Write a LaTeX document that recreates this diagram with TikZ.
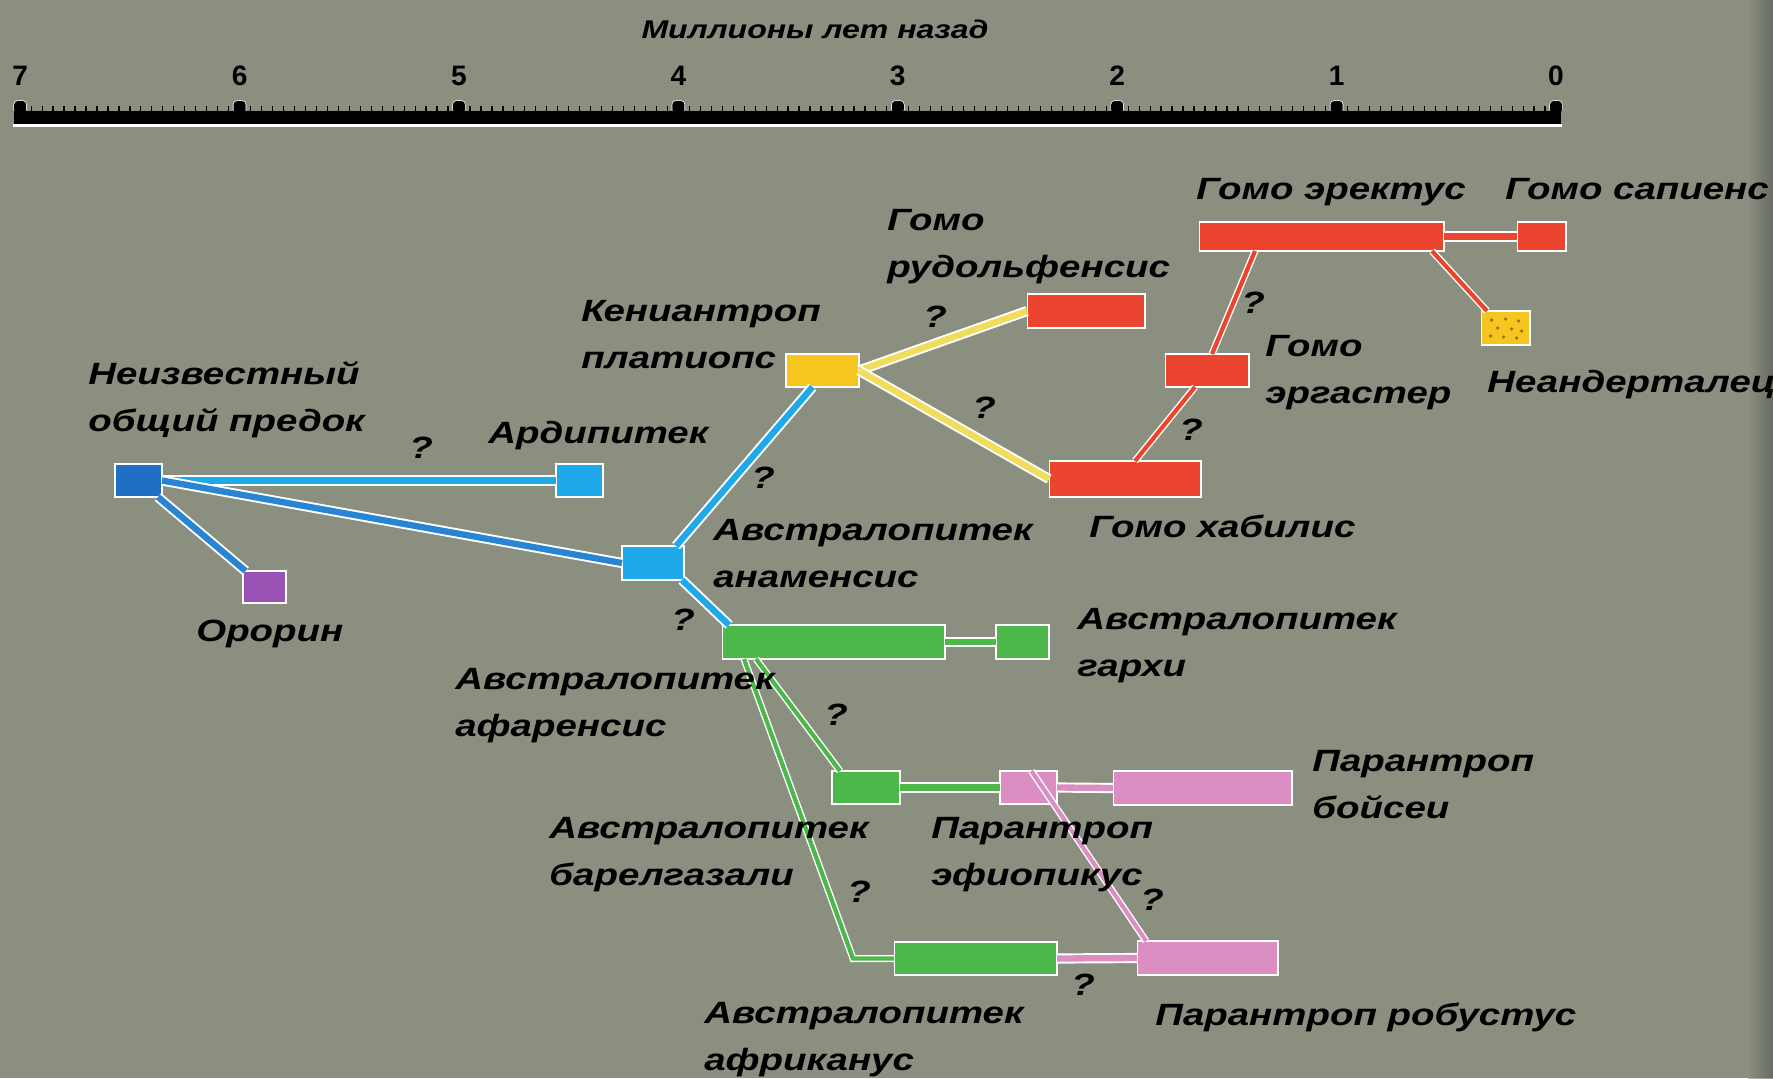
\documentclass[tikz,border=0pt]{standalone}
\usepackage{fontspec}
\setmainfont{Liberation Sans}
\newfontfamily\evofont[FakeStretch=1.25]{Liberation Sans}
\usetikzlibrary{calc}
\definecolor{evopaper}{HTML}{8A8F80}
\definecolor{evonavy}{HTML}{1F6FC4}
\definecolor{evoblue}{HTML}{2785D3}
\definecolor{evosky}{HTML}{1EA9EA}
\definecolor{evoplum}{HTML}{9A52B5}
\definecolor{evogold}{HTML}{F7C520}
\definecolor{evolemon}{HTML}{F2DC5C}
\definecolor{evored}{HTML}{EB4530}
\definecolor{evogreen}{HTML}{4DB84A}
\definecolor{evopink}{HTML}{DA8EC2}
\definecolor{evodot}{HTML}{9A6A10}
\newcommand\evolbl{\evofont\bfseries\itshape\fontsize{17.5}{26.6}\selectfont}
\newcommand\evottl{\evofont\bfseries\itshape\fontsize{14.6}{18}\selectfont}
\tikzset{
  sp/.style={draw=white, line width=0.6pt, inner sep=0pt, outer sep=0pt},
  lnk/.style={draw=white, line width=1.1pt, double distance=3.6pt},
  lnk2/.style={draw=white, line width=0.8pt, double distance=2.4pt},
  nm/.style={font=\evolbl, align=left, inner sep=0pt, anchor=north west},
  qm/.style={font=\evolbl, inner sep=0pt},
  num/.style={font=\bfseries\fontsize{16}{16}\selectfont, inner sep=0pt},
}
\begin{document}
\begin{tikzpicture}[x=0.02cm, y=-0.02cm]
  \useasboundingbox (0,0) rectangle (1773,1078);
  \fill[evopaper] (0,0) rectangle (1773,1078);
  \shade[left color=evopaper, right color=evopaper!60!black, opacity=0.6] (1748,0) rectangle (1773,1078);

  % time axis
  \node[font=\evottl, inner sep=0pt] (axis) at (815,29) {Миллионы лет назад};
  \draw[white, line width=1.4pt] (13,125.5) -- (1562,125.5);
  \fill[black] (14,111) rectangle (1561,124);
  \foreach \k in {0,...,140} \draw[black, line width=0.7pt] (1556-10.97*\k,106) -- ++(0,6);
  \foreach \t in {0,...,7} {
    \draw[white, line width=0.8pt, rounded corners=2pt] (1550-219.4*\t,110) |- (1562-219.4*\t,101) -- (1562-219.4*\t,110);
    \fill[black, rounded corners=2pt] (1550-219.4*\t,113) |- (1562-219.4*\t,101) -- (1562-219.4*\t,113) -- cycle;
    \node[num] (y\t) at (1556-219.4*\t,76) {\t};
  }

  % species
  \node[sp, fill=evonavy, minimum width=0.94cm, minimum height=0.66cm] (anc) at (138.5,480.5) {};
  \node[sp, fill=evosky, minimum width=0.94cm, minimum height=0.66cm] (ardi) at (579.5,480.5) {};
  \node[sp, fill=evoplum, minimum width=0.86cm, minimum height=0.64cm] (orr) at (264.5,587) {};
  \node[sp, fill=evosky, minimum width=1.24cm, minimum height=0.68cm] (anam) at (653,563) {};
  \node[sp, fill=evogold, minimum width=1.46cm, minimum height=0.66cm] (keny) at (822.5,370.5) {};
  \node[sp, fill=evored, minimum width=2.36cm, minimum height=0.68cm] (rudolf) at (1086,311) {};
  \node[sp, fill=evored, minimum width=3.04cm, minimum height=0.72cm] (habil) at (1125,479) {};
  \node[sp, fill=evored, minimum width=1.68cm, minimum height=0.66cm] (ergas) at (1207,370.5) {};
  \node[sp, fill=evored, minimum width=4.90cm, minimum height=0.58cm] (erect) at (1321.5,236.5) {};
  \node[sp, fill=evored, minimum width=0.98cm, minimum height=0.58cm] (sapien) at (1541.5,236.5) {};
  \node[sp, fill=evogold, minimum width=0.98cm, minimum height=0.68cm] (neand) at (1505.5,328) {};
  \node[sp, fill=evogreen, minimum width=4.46cm, minimum height=0.68cm] (afar) at (833.5,642) {};
  \node[sp, fill=evogreen, minimum width=1.06cm, minimum height=0.68cm] (garhi) at (1022.5,642) {};
  \node[sp, fill=evogreen, minimum width=1.36cm, minimum height=0.66cm] (barel) at (866,787.5) {};
  \node[sp, fill=evopink, minimum width=1.14cm, minimum height=0.66cm] (ethio) at (1028.5,787.5) {};
  \node[sp, fill=evopink, minimum width=3.58cm, minimum height=0.68cm] (boisei) at (1202.5,788) {};
  \node[sp, fill=evogreen, minimum width=3.26cm, minimum height=0.66cm] (afric) at (975.5,958.5) {};
  \node[sp, fill=evopink, minimum width=2.82cm, minimum height=0.68cm] (robust) at (1207.5,958) {};
  \foreach \dx/\dy in {-14/-8,0/-9,13/-7,-8/0,6/1,16/3,-15/8,-2/9,11/10}
    \fill[evodot] ($(neand.center)+(\dx,\dy)$) circle (0.035cm);

  % links
  \foreach \a/\b/\c in {anc.east/ardi.west/evosky, anc.east/anam.west/evoblue, anc/orr/evoblue,
      keny.east/rudolf.west/evolemon, keny.east/habil.west/evolemon, erect.east/sapien.west/evored,
      afar.east/garhi.west/evogreen, barel.east/ethio.west/evogreen, ethio.east/boisei.west/evopink,
      afric.east/robust.west/evopink}
    \draw[lnk, double=\c] (\a) -- (\b);
  \draw[lnk, double=evosky] ([xshift=-0.16cm]anam.north east) -- ([xshift=-0.2cm]keny.south);
  \draw[lnk, double=evosky] ([xshift=-0.04cm]anam.south east) -- ([xshift=0.14cm]afar.north west);
  \draw[lnk2, double=evored] ([xshift=0.2cm]habil.north) -- ([xshift=-0.24cm]ergas.south);
  \draw[lnk2, double=evored] ([xshift=0.1cm]ergas.north) -- ([xshift=1.12cm]erect.south west);
  \draw[lnk2, double=evored] ([xshift=-0.24cm]erect.south east) -- ([xshift=0.12cm]neand.north west);
  \draw[lnk2, double=evogreen] ([xshift=0.68cm]afar.south west) -- ([xshift=0.16cm]barel.north west);
  \coordinate (kink) at (853,958.5);
  \draw[lnk2, double=evogreen] ([xshift=0.44cm]afar.south west) -- (kink) -- (afric.west);
  \draw[lnk2, double=evopink] ([xshift=0.06cm]ethio.north) -- ([xshift=0.18cm]robust.north west);

  % names
  \node[nm] (ancL) at (88,361) {Неизвестный\\общий предок};
  \node[nm] (ardiL) at (488,421) {Ардипитек};
  \node[nm] (orrL) at (196,620) {Орорин};
  \node[nm] (anamL) at (713,519) {Австралопитек\\анаменсис};
  \node[nm] (kenyL) at (581,300) {Кениантроп\\платиопс};
  \node[nm] (rudolfL) at (887,209) {Гомо\\рудольфенсис};
  \node[nm] (habilL) at (1089,515) {Гомо хабилис};
  \node[nm] (ergasL) at (1265,335) {Гомо\\эргастер};
  \node[nm] (erectL) at (1196,178) {Гомо эректус};
  \node[nm] (sapienL) at (1505,178) {Гомо сапиенс};
  \node[nm] (neandL) at (1487,370) {Неандерталец};
  \node[nm] (garhiL) at (1077,608) {Австралопитек\\гархи};
  \node[nm] (afarL) at (455,668) {Австралопитек\\афаренсис};
  \node[nm] (barelL) at (549,817) {Австралопитек\\барелгазали};
  \node[nm] (ethioL) at (931,817) {Парантроп\\эфиопикус};
  \node[nm] (boiseiL) at (1312,750) {Парантроп\\бойсеи};
  \node[nm] (africL) at (704,1002) {Австралопитек\\африканус};
  \node[nm] (robustL) at (1155,1003) {Парантроп робустус};

  % question marks
  \foreach \n/\x/\y in {q1/421/448, q2/763/478, q3/683/620, q4/935/317, q5/984/408, q6/1253/303,
      q7/1191/430, q8/836/715, q9/859/892, q10/1152/900, q11/1083/985}
    \node[qm] (\n) at (\x,\y) {?};
\end{tikzpicture}
\end{document}
